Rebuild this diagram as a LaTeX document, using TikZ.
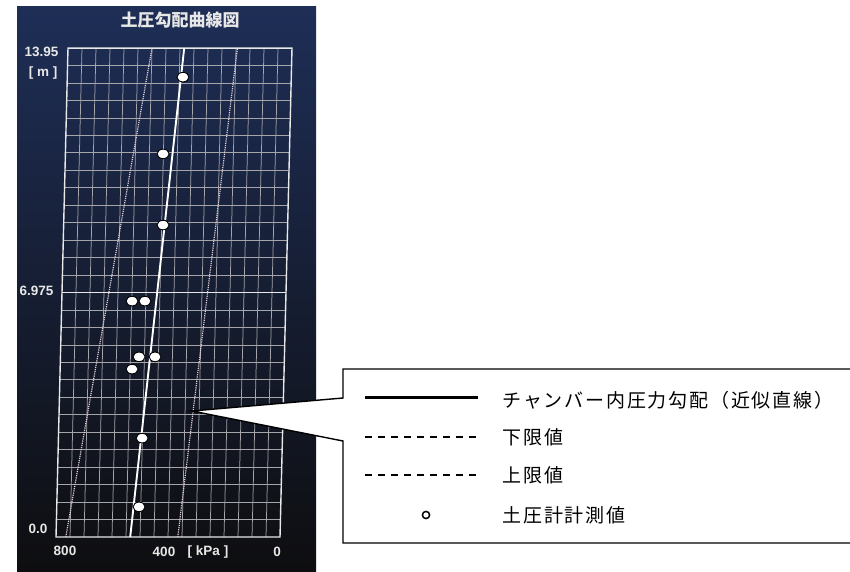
\documentclass[tikz,border=0pt]{standalone}
\usepackage{fontspec}
\setmainfont{Liberation Sans}
\newfontfamily\jpfont{Noto Sans CJK JP}
\newfontfamily\jplegend{Noto Sans CJK JP}[LetterSpace=9.5]
\usetikzlibrary{shapes.geometric}
\definecolor{screentop}{RGB}{30,46,86}
\definecolor{screenmid}{RGB}{20,26,38}
\definecolor{screenbot}{RGB}{14,14,16}
\definecolor{gridgray}{RGB}{165,165,170}
\definecolor{limitpink}{RGB}{226,208,218}
\definecolor{labelgray}{RGB}{232,232,232}
\tikzset{
  gridline/.style={draw=gridgray, line width=0.75pt},
  fitline/.style={draw=white, line width=1.9pt},
  limitline/.style={draw=limitpink, line width=1.2pt, densely dotted},
  gauge/.style={ellipse, draw=black, fill=white, line width=0.9pt, minimum width=12pt, minimum height=9.5pt, inner sep=0pt},
  ticklabel/.style={text=labelgray, font=\bfseries\fontsize{13.5}{13.5}\selectfont},
  legendtext/.style={anchor=west, font=\jplegend\fontsize{19}{19}\selectfont},
}

\begin{document}
\begin{tikzpicture}[x=1pt, y=-1pt]
          \useasboundingbox (0,0) rectangle (850,572);
          \shade[top color=screentop, middle color=screenmid, bottom color=screenbot] (17,7) rectangle (316,572);
          \node[text=labelgray, font=\jpfont\bfseries\fontsize{17}{17}\selectfont] (title) at (180,20) {土圧勾配曲線図};
          \begin{scope}[shift={(280,537)}, x=-0.28pt, y=35.05pt, xslant=0.02454]
          \foreach \k in {50,100,...,750}
          \draw[gridline] (\k,0) -- (\k,13.95);
          \foreach \j in {1,...,27}
          \draw[gridline] (0,\j*0.498214) -- (800,\j*0.498214);
          \draw[draw=labelgray, line width=1.2pt] (0,6.975) -- (800,6.975);
          \draw[draw=labelgray, line width=1.4pt] (0,0) -- (800,0) -- (800,13.95) -- (0,13.95) -- cycle;
          \draw[limitline] (765,0) -- (500,13.95);
          \draw[limitline] (365,0) -- (195,13.95);
          \draw[fitline] (535,0) -- (385,13.95);
          \foreach \p/\d [count=\n] in {387/13.12, 451/10.93, 445/8.90, 549/6.73, 503/6.73, 519/5.14, 462/5.14, 543/4.79, 501/2.82, 506/0.86}
          \node[gauge] (gauge\n) at (\p,\d) {};
          \end{scope}
          \node[ticklabel, anchor=east] (ymax) at (62,52) {13.95};
          \node[ticklabel, anchor=east] (yunit) at (61,73) {[ m ]};
          \node[ticklabel, anchor=east] (ymid) at (57,291) {6.975};
          \node[ticklabel, anchor=east] (ymin) at (51,529) {0.0};
          \node[ticklabel] (x800) at (65,551) {800};
          \node[ticklabel] (x400) at (164,552) {400};
          \node[ticklabel] (xunit) at (208,552) {[ kPa ]};
          \node[ticklabel] (x0) at (277,552) {0};
          \draw[fill=white, line width=1.4pt] (851,369) -- (343,369) -- (343,398) -- (192,411) -- (343,441) -- (343,543) -- (851,543);
          \draw[line width=3pt] (365,397) -- (478,397);
          \draw[line width=1.2pt, dash pattern=on 7pt off 6pt] (365,437) -- (478,437);
          \draw[line width=1.2pt, dash pattern=on 7pt off 6pt] (365,475) -- (478,475);
          \draw[line width=1.5pt] (426,515) circle[radius=3.6];
          \node[legendtext] (fitkey) at (499,400) {チャンバー内圧力勾配（近似直線）};
          \node[legendtext] (lowkey) at (499,437) {下限値};
          \node[legendtext] (upkey) at (499,475) {上限値};
          \node[legendtext] (gaugekey) at (499,515) {土圧計計測値};
        \end{tikzpicture}
\end{document}
